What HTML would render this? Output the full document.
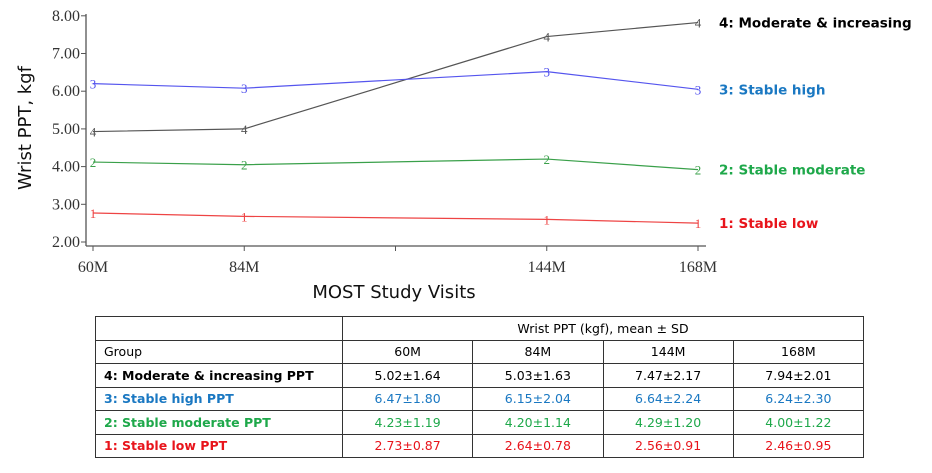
<!DOCTYPE html>
<html><head><meta charset="utf-8">
<style>
body{margin:0;background:#fff;width:932px;height:473px;overflow:hidden;position:relative;font-family:"DejaVu Sans","Liberation Sans",sans-serif}
svg{position:absolute;left:0;top:0}
table{position:absolute;left:95px;top:316px;border-collapse:collapse;font-size:12.5px;width:769px}
tr{height:23.5px}
td{border:1.5px solid #333;padding:0 8px;text-align:center}
td.g{text-align:left;font-weight:bold}
.k{color:#000}.b{color:#1a78c2}.gr{color:#1ea84a}.r{color:#e8141b}
</style></head><body>
<svg id="chart" width="932" height="310"></svg>
<table>
<tr><td style="width:230px"></td><td colspan="4">Wrist PPT (kgf), mean ± SD</td></tr>
<tr><td style="text-align:left">Group</td><td>60M</td><td>84M</td><td>144M</td><td>168M</td></tr>
<tr class="k"><td class="g">4: Moderate &amp; increasing PPT</td><td>5.02±1.64</td><td>5.03±1.63</td><td>7.47±2.17</td><td>7.94±2.01</td></tr>
<tr class="b"><td class="g">3: Stable high PPT</td><td>6.47±1.80</td><td>6.15±2.04</td><td>6.64±2.24</td><td>6.24±2.30</td></tr>
<tr class="gr"><td class="g">2: Stable moderate PPT</td><td>4.23±1.19</td><td>4.20±1.14</td><td>4.29±1.20</td><td>4.00±1.22</td></tr>
<tr class="r"><td class="g">1: Stable low PPT</td><td>2.73±0.87</td><td>2.64±0.78</td><td>2.56±0.91</td><td>2.46±0.95</td></tr>
</table>
<script>
const categories=["60M","84M","","144M","168M"];
const visitIdx=[0,1,3,4];
const yTicks=[2,3,4,5,6,7,8];
const g4=[4.93,5.0,7.45,7.82];
const g3=[6.2,6.08,6.52,6.05];
const g2=[4.12,4.05,4.2,3.92];
const g1=[2.77,2.68,2.6,2.5];
const NS="http://www.w3.org/2000/svg";
const svg=document.getElementById('chart');
const x=i=>93+i*151.25;
const y=v=>242-(v-2)*37.7;
function el(t,a,txt){const e=document.createElementNS(NS,t);for(const k in a)e.setAttribute(k,a[k]);if(txt!==undefined)e.textContent=txt;svg.appendChild(e);return e;}
let e=el('line',{x1:86,y1:14,x2:86,y2:246,stroke:'#555','stroke-width':1.3});


e=el('line',{x1:86,y1:246,x2:706,y2:246,stroke:'#555','stroke-width':1.3});


yTicks.forEach(v=>{el('line',{x1:81,y1:y(v),x2:86,y2:y(v),stroke:'#555'});
 e=el('text',{x:80,y:y(v)+5,'text-anchor':'end','font-family':'Liberation Serif,serif','font-size':16,fill:'#333'},v.toFixed(2));
 
 });
categories.forEach((c,i)=>{el('line',{x1:x(i),y1:246,x2:x(i),y2:251,stroke:'#555'});
 e=el('text',{x:x(i),y:272,'text-anchor':'middle','font-family':'Liberation Serif,serif','font-size':16,fill:'#333'},c);
 
 });
e=el('text',{x:394,y:298,'text-anchor':'middle','font-size':18,fill:'#111'},'MOST Study Visits');


e=el('text',{x:0,y:0,'text-anchor':'middle','font-size':18,fill:'#111',transform:'translate(31,128) rotate(-90)'},'Wrist PPT, kgf');


const series=[[g4,'#555','4','4: Moderate & increasing','#000'],[g3,'#5555ee','3','3: Stable high','#1a78c2'],[g2,'#3aa04a','2','2: Stable moderate','#1ea84a'],[g1,'#ee4444','1','1: Stable low','#e8141b']];
series.forEach(([d,col,m,lab,lc])=>{
 const pts=d.map((v,j)=>x(visitIdx[j])+','+y(v)).join(' ');
 e=el('polyline',{points:pts,fill:'none',stroke:col,'stroke-width':1.2});
 
 
 d.forEach((v,j)=>{e=el('text',{x:x(visitIdx[j]),y:y(v)+5,'text-anchor':'middle','font-family':'Liberation Serif,serif','font-size':13,fill:col},m);
  
  });
 e=el('text',{x:719,y:y(d[d.length-1])+5,'font-size':13.5,'font-weight':'bold',fill:lc},lab);
 
 
});
</script>
</body></html>
